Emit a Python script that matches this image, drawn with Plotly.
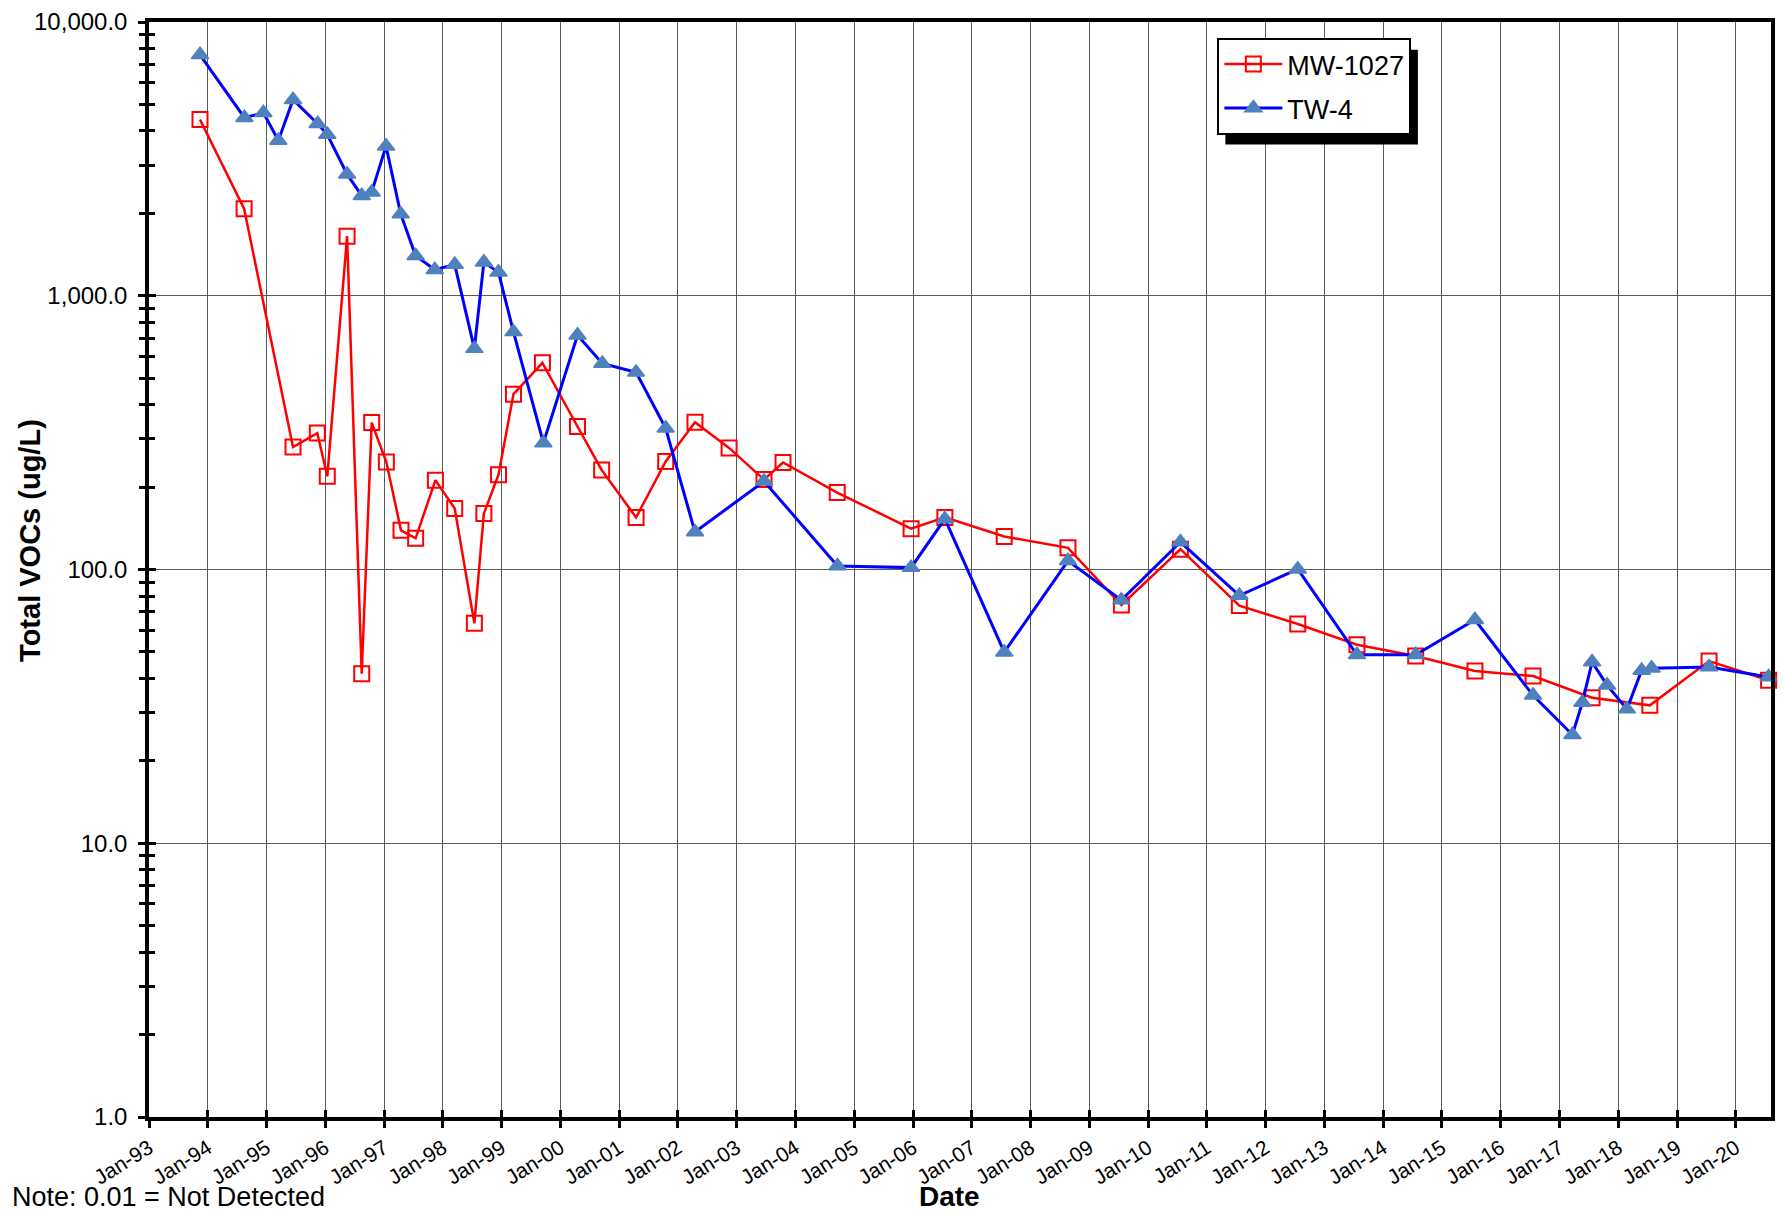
import plotly.graph_objects as go

# Sampling dates and total VOC concentrations (ug/L)
mw1027_dates = [
    "1993-11-14", "1994-08-15", "1995-06-15", "1995-11-13", "1996-01-14",
    "1996-05-16", "1996-08-15", "1996-10-16", "1997-01-15", "1997-04-16",
    "1997-07-16", "1997-11-16", "1998-03-16", "1998-07-16", "1998-09-13",
    "1998-12-13", "1999-03-16", "1999-09-12", "2000-04-17", "2000-09-14",
    "2001-04-16", "2001-10-17", "2002-04-17", "2002-11-15", "2003-06-20",
    "2003-10-16", "2004-09-17", "2005-12-20", "2006-07-18", "2007-07-22",
    "2008-08-21", "2009-07-19", "2010-07-21", "2011-07-22", "2012-07-19",
    "2013-07-22", "2014-07-22", "2015-07-25", "2016-07-20", "2017-07-22",
    "2018-07-16", "2019-07-19", "2020-07-23",
]
mw1027_vocs = [
    4400, 2080, 280, 315, 219,
    1650, 41.6, 344, 247, 139,
    130, 212, 167, 63.6, 160,
    222, 437, 569, 333, 231,
    155, 248, 345, 278, 213,
    246, 191, 141, 155, 132,
    120, 74.2, 118.6, 73.8, 63.2,
    53.1, 48.3, 42.6, 40.8, 34.0,
    31.9, 46.3, 39.4,
]

tw4_dates = [
    "1993-11-14", "1994-08-17", "1994-12-13", "1995-03-16", "1995-06-15",
    "1995-11-15", "1996-01-14", "1996-05-16", "1996-08-15", "1996-10-16",
    "1997-01-13", "1997-04-14", "1997-07-16", "1997-11-12", "1998-03-16",
    "1998-07-16", "1998-09-13", "1998-12-13", "1999-03-16", "1999-09-18",
    "2000-04-17", "2000-09-18", "2001-04-16", "2001-10-17", "2002-04-17",
    "2003-06-20", "2004-09-19", "2005-12-20", "2006-07-18", "2007-07-22",
    "2008-08-21", "2009-07-19", "2010-07-21", "2011-07-22", "2012-07-19",
    "2013-07-22", "2014-07-22", "2015-07-25", "2016-07-20", "2017-03-22",
    "2017-05-23", "2017-07-22", "2017-10-23", "2018-02-24", "2018-05-26",
    "2018-07-27", "2019-07-19", "2020-07-23",
]
tw4_vocs = [
    7590, 4470, 4660, 3690, 5200,
    4250, 3880, 2780, 2320, 2390,
    3520, 1990, 1400, 1245, 1300,
    641, 1325, 1218, 738, 290,
    717, 566, 525, 328, 137,
    210, 103, 101.6, 153, 49.9,
    107.6, 77.3, 126, 80.3, 100.3,
    48.8, 48.8, 65.5, 34.7, 24.9,
    32.7, 45.9, 37.8, 30.9, 42.8,
    43.6, 44.0, 40.5,
]

# Axis settings
x_range = ["1993-01-01", "2020-08-07"]
y_tickvals = [1, 10, 100, 1000, 10000]
y_ticktext = ["1.0", "10.0", "100.0", "1,000.0", "10,000.0"]
y_minor = [m * 10 ** k for k in range(4) for m in range(2, 10)]

W, H = 1783, 1214
L, R, T, B = 149, 8, 17, 97
PW, PH = W - L - R, H - T - B


def px_x(px):
    return (px - L) / PW


def px_y(py):
    return (H - B - py) / PH


FONT = "Liberation Sans, Arial, sans-serif"
NARROW = "Liberation Sans Narrow, Arial Narrow, Liberation Sans, Arial, sans-serif"
GRID = "#5a5a5a"

fig = go.Figure()
fig.add_trace(go.Scatter(
    x=mw1027_dates, y=mw1027_vocs, name="MW-1027", mode="lines+markers",
    legendgroup="mw1027",
    line=dict(color="#FF0000", width=2.5),
    marker=dict(symbol="square-open", size=15, color="#FF0000", line=dict(width=2, color="#FF0000")),
    cliponaxis=False,
))
fig.add_trace(go.Scatter(
    x=tw4_dates, y=tw4_vocs, name="TW-4", mode="lines+markers",
    legendgroup="tw4",
    line=dict(color="#0000FF", width=3),
    marker=dict(symbol="triangle-up", size=15, color="#4F81BD", line=dict(width=1.5, color="#4F81BD")),
    cliponaxis=False,
))
# companion axes carry the inner half of the crossing tick marks
fig.add_trace(go.Scatter(x=[], y=[], xaxis="x2", yaxis="y2", showlegend=False, hoverinfo="skip"))

tick_common = dict(tickcolor="black", tickwidth=3)

fig.update_layout(
    width=W, height=H,
    margin=dict(l=L, r=R, t=T, b=B, pad=0),
    paper_bgcolor="white", plot_bgcolor="white",
    font=dict(family=FONT, color="black"),
    showlegend=True,
    legend=dict(
        x=px_x(1220), y=px_y(33), xanchor="left", yanchor="top",
        bgcolor="white", bordercolor="black", borderwidth=2,
        font=dict(family=FONT, size=27, color="black"),
        itemwidth=58, traceorder="grouped", tracegroupgap=6,
    ),
    xaxis=dict(
        type="date", range=x_range, tick0="1993-01-01", dtick="M12", tickformat="%b-%y",
        tickangle=-32, tickfont=dict(family=NARROW, size=21, color="black"),
        ticks="outside", ticklen=7, **tick_common,
        showgrid=True, gridcolor=GRID, gridwidth=1.3,
        showline=True, linecolor="black", linewidth=3.5, mirror=True,
        zeroline=False,
    ),
    yaxis=dict(
        type="log", range=[0, 4], tickmode="array", tickvals=y_tickvals, ticktext=y_ticktext,
        tickfont=dict(family=FONT, size=24, color="black"),
        ticks="outside", ticklen=7, **tick_common, ticklabelstandoff=6,
        minor=dict(tickmode="array", tickvals=y_minor, ticks="outside", ticklen=6,
                   tickcolor="black", tickwidth=3, showgrid=False),
        showgrid=True, gridcolor=GRID, gridwidth=1.3,
        showline=True, linecolor="black", linewidth=3.5, mirror=True,
        zeroline=False,
    ),
    xaxis2=dict(
        type="date", range=x_range, overlaying="x", anchor="y2", tick0="1993-01-01", dtick="M12",
        ticks="inside", ticklen=7, **tick_common, showticklabels=False,
        showgrid=False, showline=False, zeroline=False,
    ),
    yaxis2=dict(
        type="log", range=[0, 4], overlaying="y", anchor="x2", side="left",
        tickmode="array", tickvals=y_tickvals,
        ticks="inside", ticklen=7, **tick_common, showticklabels=False,
        minor=dict(tickmode="array", tickvals=y_minor, ticks="inside", ticklen=6,
                   tickcolor="black", tickwidth=3, showgrid=False),
        showgrid=False, showline=False, zeroline=False,
    ),
    shapes=[
        # drop shadow behind the legend box
        dict(type="rect", xref="paper", yref="paper",
             x0=px_x(1228), x1=px_x(1421), y0=px_y(140), y1=px_y(45),
             fillcolor="black", line=dict(width=0), layer="above"),
    ],
    annotations=[
        dict(text="<b>Total VOCs (ug/L)</b>", xref="paper", yref="paper",
             x=px_x(29), y=px_y(538), xanchor="center", yanchor="middle", textangle=-90,
             showarrow=False, font=dict(family=FONT, size=29, color="black")),
        dict(text="<b>Date</b>", xref="paper", yref="paper",
             x=px_x(951), y=px_y(1197), xanchor="center", yanchor="middle",
             showarrow=False, font=dict(family=NARROW, size=28, color="black")),
        dict(text="Note: 0.01 = Not Detected", xref="paper", yref="paper",
             x=px_x(10), y=px_y(1197), xanchor="left", yanchor="middle",
             showarrow=False, font=dict(family=NARROW, size=27, color="black")),
    ],
)

fig.write_html("out.html")
